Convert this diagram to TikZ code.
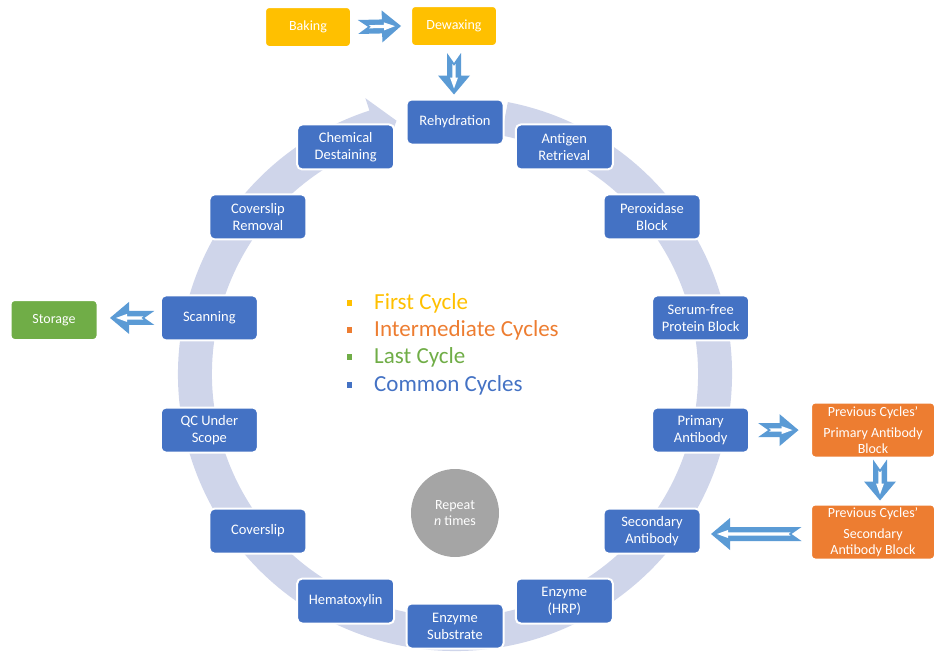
\documentclass[tikz,border=0pt]{standalone}
\usepackage{fontspec}
\setmainfont{Carlito}
\usetikzlibrary{calc}

\definecolor{ringc}{HTML}{CFD5EA}
\definecolor{stepblue}{HTML}{4472C4}
\definecolor{firstc}{HTML}{FFC000}
\definecolor{interc}{HTML}{ED7D31}
\definecolor{lastc}{HTML}{70AD47}
\definecolor{arrowc}{HTML}{5B9BD5}
\definecolor{repeatc}{HTML}{A5A5A5}

\tikzset{
  box/.style={rectangle, rounded corners=5pt, text=white, align=center,
    draw=white, line width=2pt, inner sep=0pt,
    font=\fontsize{14.5}{17}\selectfont},
  ringstep/.style={box, fill=stepblue, minimum width=97pt, minimum height=45pt},
  firststep/.style={box, fill=firstc, minimum width=86pt, minimum height=40pt,
    rounded corners=4pt, font=\fontsize{14}{17}\selectfont},
  laststep/.style={box, fill=lastc, minimum width=87pt, minimum height=40pt,
    rounded corners=4pt, font=\fontsize{14}{17}\selectfont},
  interstep/.style={box, fill=interc, minimum width=124pt, minimum height=55pt,
    rounded corners=4pt, font=\fontsize{14}{16}\selectfont},
  legendtext/.style={anchor=base west, inner sep=0pt,
    font=\fontsize{23}{26}\selectfont},
}

% notched block arrow with a white inner stripe, from point #1 to point #2
\newcommand\fatarrow[2]{%
  \path let \p1=#1, \p2=#2 in \pgfextra{%
    \pgfmathsetmacro\fa{atan2(\y2-\y1,\x2-\x1)}%
    \pgfmathsetmacro\fl{veclen(\x2-\x1,\y2-\y1)}%
    \xdef\fatang{\fa}\xdef\fatlen{\fl}\xdef\fatx{\x1}\xdef\faty{\y1}};
  \begin{scope}[shift={(\fatx,\faty)}, rotate=\fatang]
    \fill[arrowc] (0,7) -- (\fatlen-19,7) -- (\fatlen-19,16) -- (\fatlen,0)
      -- (\fatlen-19,-16) -- (\fatlen-19,-7) -- (0,-7) -- (10,0) -- cycle;
    \fill[white] (11,1.6) -- (\fatlen-17,1.6) -- (\fatlen-17,4) -- (\fatlen-6,0)
      -- (\fatlen-17,-4) -- (\fatlen-17,-1.6) -- (11,-1.6) -- (13,0) -- cycle;
  \end{scope}}

\begin{document}
\begin{tikzpicture}[x=1pt, y=1pt]
  \useasboundingbox (0,0) rectangle (937,-653);

  % circular flow band with its arrowhead just before the first step
  \begin{scope}[shift={(455,-374)}]
    \fill[ringc] (79:277) arc[start angle=79, end angle=-252, radius=277]
      -- (-252:290) -- (-257:260) -- (-252:230) -- (-252:243)
      arc[start angle=-252, end angle=79, radius=243] -- cycle;

    % the fourteen steps of every cycle
    \node[ringstep] (n0)  at (90:252)      {Rehydration};
    \node[ringstep] (n1)  at (64.29:252)   {Antigen\\Retrieval};
    \node[ringstep] (n2)  at (38.57:252)   {Peroxidase\\Block};
    \node[ringstep] (n3)  at (12.86:252)   {Serum-free\\Protein Block};
    \node[ringstep] (n4)  at (-12.86:252)  {Primary\\Antibody};
    \node[ringstep] (n5)  at (-38.57:252)  {Secondary\\Antibody};
    \node[ringstep] (n6)  at (-64.29:252)  {Enzyme\\(HRP)};
    \node[ringstep] (n7)  at (-90:252)     {Enzyme\\Substrate};
    \node[ringstep] (n8)  at (-115.71:252) {Hematoxylin};
    \node[ringstep] (n9)  at (-141.43:252) {Coverslip};
    \node[ringstep] (n10) at (-167.14:252) {QC Under\\Scope};
    \node[ringstep] (n11) at (167.14:252)  {Scanning};
    \node[ringstep] (n12) at (141.43:252)  {Coverslip\\Removal};
    \node[ringstep] (n13) at (115.71:252)  {Chemical\\Destaining};
  \end{scope}

  % first-cycle, last-cycle and intermediate-cycle steps
  \node[firststep] (baking) at (308,-27) {Baking};
  \node[firststep] (dewax)  at (454,-26) {Dewaxing};
  \node[laststep]  (storage) at (54,-320) {Storage};
  \node[interstep] (prevprim) at (873,-430)
    {Previous Cycles’\\[5pt]Primary Antibody\\Block};
  \node[interstep] (prevsec) at (873,-532)
    {Previous Cycles’\\[5pt]Secondary\\Antibody Block};

  % repeat marker
  \node[circle, fill=repeatc, minimum size=88pt, inner sep=0pt, text=white,
    align=center, font=\fontsize{14}{16}\selectfont] (rep) at (455,-513)
    {Repeat\\\textit{n} times};

  % legend
  \foreach \txt/\col/\yy [count=\i] in {First Cycle/firstc/302,
      Intermediate Cycles/interc/329, Last Cycle/lastc/356,
      Common Cycles/stepblue/384} {
    \fill[\col] (346.5,-\yy+1.75) rectangle ++(5.5,-5.5);
    \node[legendtext, text=\col] (legend\i) at (374,-\yy-7.5) {\txt};
  }

  % block arrows between steps
  \fatarrow{($(baking.east)+(6,0)$)}{($(dewax.west)+(-9,0)$)}
  \fatarrow{($(dewax.south)+(0,-6)$)}{($(dewax.south |- n0.north)+(0,4)$)}
  \fatarrow{($(n11.west)+(-5.5,0)$)}{($(storage.east |- n11.west)+(11.5,0)$)}
  \fatarrow{($(n4.east)+(8,0)$)}{($(prevprim.west |- n4.east)+(-11.5,0)$)}
  \fatarrow{($(prevprim.south)+(7,-1)$)}{($(prevprim.south |- prevsec.north)+(7,3)$)}
  \fatarrow{($(prevsec.west)+(-8.5,-2)$)}{($(n5.east |- prevsec.west)+(9.5,-2)$)}
\end{tikzpicture}
\end{document}
